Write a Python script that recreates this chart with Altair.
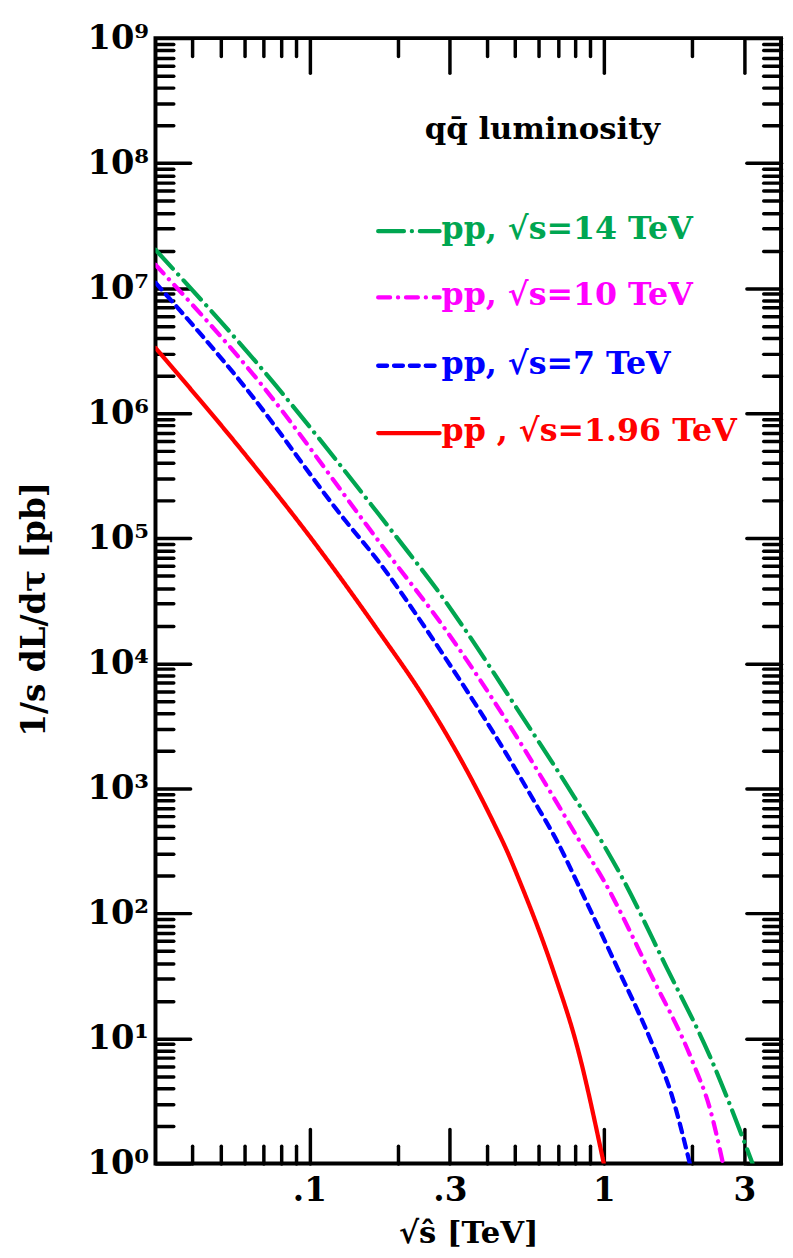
import json
import altair as alt
import pandas as pd

# ---------------- data ----------------
series_names = ["pp14", "pp10", "pp7", "ppbar196"]
legend_labels = ["pp, \u221as=14 TeV", "pp, \u221as=10 TeV", "pp, \u221as=7 TeV",
                 "pp\u0304 , \u221as=1.96 TeV"]
colors = ["#00a651", "#ff00ff", "#0000ff", "#ff0000"]

x_14 = [0.03, 0.0755, 0.1056, 0.172, 0.215, 0.268, 0.329, 0.509, 0.792, 1.0, 1.14, 1.63, 2.29, 3.2]
y_14 = [2.03e7, 1.758e6, 6.68e5, 1.556e5, 7.93e4, 4.04e4, 2.04e4, 4.29e3, 861, 352, 204, 37.4, 7.26, 1.0]

x_10 = [0.03, 0.0679, 0.156, 0.186, 0.286, 0.471, 0.679, 0.837, 1.0, 1.44, 2.01, 2.3, 2.54]
y_10 = [1.54e7, 1.758e6, 1.288e5, 7.41e4, 1.95e4, 3.38e3, 830, 363, 183, 33.0, 6.38, 2.69, 1.0]

x_7 = [0.03, 0.0614, 0.133, 0.168, 0.248, 0.283, 0.471, 0.573, 0.705, 0.811, 1.08, 1.47, 1.7, 1.96]
y_7 = [1.107e7, 1.545e6, 1.368e5, 6.97e4, 1.91e4, 1.20e4, 1.82e3, 830, 352, 178, 42.6, 8.71, 3.55, 1.0]

x_196 = [0.03, 0.0614, 0.103, 0.168, 0.248, 0.3, 0.365, 0.426, 0.471, 0.509, 0.679, 0.811, 1.0]
y_196 = [3.33e6, 4.48e5, 9.51e4, 1.945e4, 5.1e3, 2.43e3, 1.05e3, 510, 309, 200, 33.0, 8.71, 1.0]

title_text = "qq\u0304 luminosity"
x_title = "\u221as\u0302 [TeV]"
y_title = "1/s dL/d\u03c4 [pb]"

x_major = [0.1, 0.3, 1, 3]
x_major_labels = [".1", ".3", "1", "3"]
x_minor = [0.04, 0.05, 0.06, 0.07, 0.08, 0.09, 0.2, 0.4, 0.5, 0.6, 0.7, 0.8, 0.9, 2]
y_major = [10 ** e for e in range(10)]
y_major_labels = ["10\u2070", "10\u00b9", "10\u00b2", "10\u00b3", "10\u2074",
                  "10\u2075", "10\u2076", "10\u2077", "10\u2078", "10\u2079"]
y_minor = [k * 10 ** e for e in range(9) for k in range(2, 10)]

# ---------------- build table ----------------
rows = []
for name, xs, ys in zip(series_names, [x_14, x_10, x_7, x_196], [y_14, y_10, y_7, y_196]):
    for a, b in zip(xs, ys):
        rows.append({"series": name, "x": a, "y": b})
df = pd.DataFrame(rows)

W, H = 632, 1137
FONT = "DejaVu Serif"
dashes = [[26, 8, 0.1, 8], [12, 8, 0.1, 8], [9, 7], [1, 0]]
LINE_W = 4.3

xs_scale = alt.Scale(type="log", domain=[0.03, 4], nice=False)
ys_scale = alt.Scale(type="log", domain=[1, 1e9], nice=False)

x_all = sorted(x_minor + x_major)
y_all = sorted(y_minor + y_major)
x_tick_size = {"condition": {"test": "indexof(%s, datum.value) >= 0" % json.dumps(x_major), "value": 35}, "value": 18}
y_tick_size = {"condition": {"test": "indexof(%s, datum.value) >= 0" % json.dumps(y_major), "value": 35}, "value": 18}

tick_common = dict(labels=False, domain=False, ticks=True, grid=False, tickColor="black",
                   tickWidth=3.5, tickCap="round")

# Layer 1: curves + labelled axes
ax_x_lab = alt.Axis(orient="bottom", values=x_major,
                    labelExpr="%s[indexof(%s, datum.value)]" % (json.dumps(x_major_labels), json.dumps(x_major)),
                    ticks=False, tickSize=0, domain=False, grid=False,
                    labelFont=FONT, labelFontSize=33, labelFontWeight="bold", labelColor="black",
                    labelPadding=11, labelFlush=False, labelOverlap=False,
                    title=x_title, titleFont=FONT, titleFontSize=31, titleFontWeight="bold",
                    titleColor="black", titleY=71, titleBaseline="middle")
ax_y_lab = alt.Axis(orient="left", values=y_major,
                    labelExpr="%s[round(log(datum.value)/LN10)]" % json.dumps(y_major_labels),
                    ticks=False, tickSize=0, domain=False, grid=False,
                    labelFont=FONT, labelFontSize=34, labelFontWeight="bold", labelColor="black",
                    labelPadding=7, labelFlush=False, labelOverlap=False, labelBaseline="middle",
                    title=y_title, titleFont=FONT, titleFontSize=33, titleFontWeight="bold",
                    titleColor="black", titleX=-122, titleY=H / 2 + 8, titleAngle=-90,
                    titleBaseline="middle", titleAlign="center")

lines = alt.Chart(df).mark_line(strokeCap="round", interpolate="monotone", clip=True,
                                strokeWidth=LINE_W).encode(
    x=alt.X("x:Q", scale=xs_scale, axis=ax_x_lab),
    y=alt.Y("y:Q", scale=ys_scale, axis=ax_y_lab),
    color=alt.Color("series:N", scale=alt.Scale(domain=series_names, range=colors), legend=None),
    strokeDash=alt.StrokeDash("series:N", scale=alt.Scale(domain=series_names, range=dashes), legend=None),
    detail="series:N",
)

# Layer 2: inward ticks on bottom and left edges
ticks_bl = alt.Chart(df).mark_point(opacity=0).encode(
    x=alt.X("x:Q", scale=xs_scale, title=None,
            axis=alt.Axis(orient="top", offset=-H, values=x_all, tickSize=x_tick_size, **tick_common)),
    y=alt.Y("y:Q", scale=ys_scale, title=None,
            axis=alt.Axis(orient="right", offset=-W, values=y_all, tickSize=y_tick_size, **tick_common)),
)
# Layer 3: inward ticks on top and right edges
ticks_tr = alt.Chart(df).mark_point(opacity=0).encode(
    x=alt.X("x:Q", scale=xs_scale, title=None,
            axis=alt.Axis(orient="bottom", offset=-H, values=x_all, tickSize=x_tick_size, **tick_common)),
    y=alt.Y("y:Q", scale=ys_scale, title=None,
            axis=alt.Axis(orient="left", offset=-W, values=y_all, tickSize=y_tick_size, **tick_common)),
)

# Title inside the plot
title_layer = alt.Chart(pd.DataFrame({"t": [title_text]})).mark_text(
    font=FONT, fontSize=31, fontWeight="bold", color="black", align="center", baseline="middle"
).encode(x=alt.value(391), y=alt.value(93), text="t:N")

# Legend
legend_layers = []
legend_y = [195, 262, 331, 399]
for lab, col, dsh, ly in zip(legend_labels, colors, dashes, legend_y):
    ldf = pd.DataFrame({"t": [lab]})
    legend_layers.append(alt.Chart(ldf).mark_rule(color=col, strokeDash=dsh, strokeWidth=LINE_W, strokeCap="round").encode(
        x=alt.value(225), x2=alt.value(287), y=alt.value(ly)))
    legend_layers.append(alt.Chart(ldf).mark_text(
        font=FONT, fontSize=32, fontWeight="bold", color=col, align="left", baseline="middle"
    ).encode(x=alt.value(289), y=alt.value(ly - 2), text="t:N"))

chart = alt.layer(lines, ticks_bl, ticks_tr, title_layer, *legend_layers).resolve_axis(
    x="independent", y="independent"
).properties(
    width=W, height=H,
    autosize=alt.AutoSizeParams(type="none"),
    padding={"left": 149, "top": 24, "right": 4, "bottom": 89},
).configure_view(stroke="black", strokeWidth=4)

chart.save("out.html", embed_options={"renderer": "svg", "actions": False})
